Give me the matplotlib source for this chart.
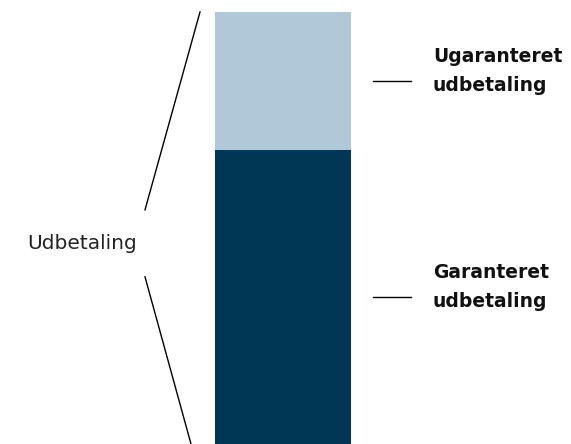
import matplotlib
matplotlib.use("Agg")
import matplotlib.pyplot as plt

# Data: payout split into guaranteed and non-guaranteed parts (percent)
segments = ["Garanteret\nudbetaling", "Ugaranteret\nudbetaling"]
values = [68, 32]
colors = ["#003754", "#B0C8D7"]
total_label = "Udbetaling"


def main():
    plt.rcParams['font.family'] = ['DejaVu Sans']

    fig = plt.figure(figsize=(5.71, 4.44), dpi=100)
    ax = fig.add_axes([0, 0, 1, 432 / 444])
    ax.set_xlim(0, 571)
    total = sum(values)
    ax.set_ylim(0, total)
    ax.axis("off")

    # Stacked bar
    bar_x, bar_w = 283, 136
    bottom = 0
    mids = []
    for val, col in zip(values, colors):
        ax.bar(bar_x, val, bar_w, bottom=bottom, color=col, linewidth=0)
        mids.append(bottom + val / 2)
        bottom += val

    # Bracket on the left around the total label
    label_y = total * 0.465
    ax.plot([200, 145], [total, total * 0.542], color="black", lw=1, clip_on=False)
    ax.plot([145, 191], [total * 0.387, 0], color="black", lw=1, clip_on=False)
    ax.text(27, label_y, total_label, fontsize=14.5, color="#222222",
            ha="left", va="center")

    # Segment labels with short leader lines on the right
    for name, mid in zip(segments, mids):
        ax.plot([373, 411], [mid, mid], color="black", lw=1, clip_on=False)
        ax.text(433, mid + 2.3, name, fontsize=13.5, fontweight="bold", color="#111111",
                ha="left", va="center", linespacing=1.65)

    fig.savefig("out.png", dpi=100)


if __name__ == "__main__":
    main()
